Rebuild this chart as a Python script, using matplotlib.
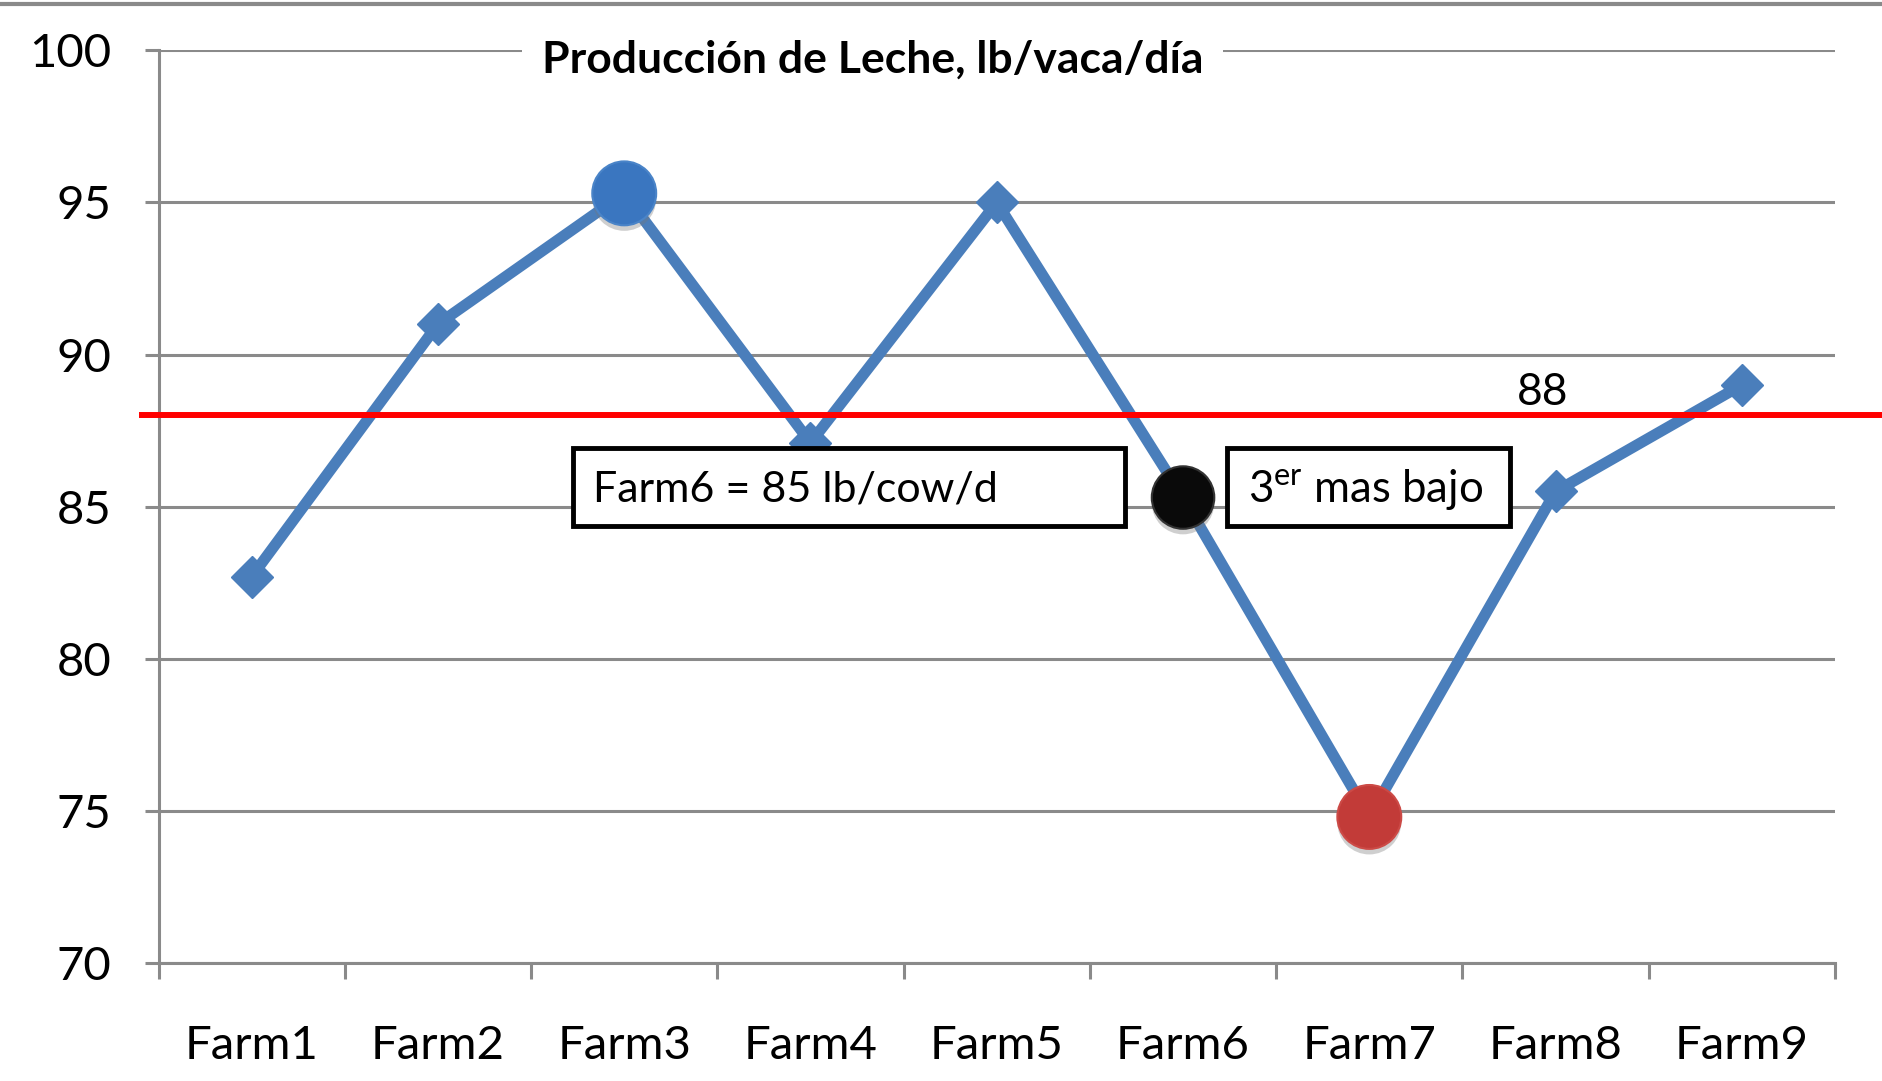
import numpy as np
import matplotlib
matplotlib.use("Agg")
import matplotlib.pyplot as plt
import matplotlib.patheffects as pe
from matplotlib.patches import Rectangle
from matplotlib.lines import Line2D

plt.rcParams['font.family'] = ['Lato', 'DejaVu Sans']
plt.rcParams['mathtext.fontset'] = 'custom'
plt.rcParams['mathtext.rm'] = 'Lato'

# datos
farms = ['Farm1', 'Farm2', 'Farm3', 'Farm4', 'Farm5', 'Farm6', 'Farm7', 'Farm8', 'Farm9']
leche = [82.7, 91.0, 95.3, 87.1, 95.0, 85.3, 74.8, 85.5, 89.0]
referencia = 88
yticks = [70, 75, 80, 85, 90, 95, 100]
titulo = 'Producción de Leche, lb/vaca/día'
nota1 = 'Farm6 = 85 lb/cow/d'
nota2 = '3$^{\\mathrm{er}}$ mas bajo'

gris = '#8a8a8a'
azul = '#4a7ebb'

fig = plt.figure(figsize=(18.83, 10.81), dpi=100, facecolor='w')
ax = fig.add_axes([0.0842, 0.1092, 0.8903, 0.8442])
x = np.arange(len(farms))

ax.set_xlim(-0.5, len(farms) - 0.5)
ax.set_ylim(70, 100)
ax.set_yticks(yticks)
ax.set_xticks(x)
ax.set_xticklabels(farms)
ax.set_xticks(np.arange(-0.5, len(farms), 1), minor=True)
ax.yaxis.grid(True, color=gris, lw=2.2, zorder=0)
ax.set_axisbelow(True)
for s in ['top', 'right']:
    ax.spines[s].set_visible(False)
for s in ['left', 'bottom']:
    ax.spines[s].set_color(gris)
    ax.spines[s].set_linewidth(2.2)
ax.tick_params(axis='y', length=10, width=2.2, color=gris, pad=24, labelsize=34)
ax.tick_params(axis='x', which='major', length=0, pad=45, labelsize=34)
ax.tick_params(axis='x', which='minor', length=11.5, width=2.2, color=gris)

# serie principal
ax.plot(x, leche, color=azul, lw=8, marker='D', ms=21, zorder=3)

# puntos destacados
sombra = [pe.SimplePatchShadow(offset=(0, -4), shadow_rgbFace='#777777', alpha=0.35), pe.Normal()]
ax.plot(x[2], leche[2], 'o', ms=46, color='#3a76c0', mec='#4a84c8', mew=1.5, zorder=5, path_effects=sombra)
ax.plot(x[6], leche[6], 'o', ms=46, color='#c23b38', mec='#cc4a46', mew=1.5, zorder=5, path_effects=sombra)
ax.plot(x[5], leche[5], 'o', ms=45, color='#0a0a0a', mec='#333333', mew=1.5, zorder=6, path_effects=sombra)

# linea de referencia
ax.plot([-0.59, 8.8], [referencia, referencia], color='#ff0000', lw=4.3, zorder=4, clip_on=False)
ax.text(6.93, 88.75, str(referencia), fontsize=32, ha='center', va='center', zorder=6)

# cuadros de texto
ax.add_patch(Rectangle((1.724, 84.37), 4.69 - 1.724, 86.93 - 84.37, fc='w', ec='k', lw=3.5, zorder=5))
ax.text(1.83, 85.55, nota1, fontsize=31, ha='left', va='center', zorder=6)
ax.add_patch(Rectangle((5.238, 84.37), 6.753 - 5.238, 86.93 - 84.37, fc='w', ec='k', lw=3.5, zorder=5))
ax.text(5.35, 85.55, nota2, fontsize=31.5, ha='left', va='center', zorder=6)

# titulo sobre la linea de 100
ax.text(0.426, 99.7, titulo, transform=ax.get_yaxis_transform(), fontsize=32, fontweight='bold',
        ha='center', va='center', zorder=6, clip_on=False,
        bbox=dict(fc='w', ec='none', pad=14))

# borde superior del area del grafico
fig.add_artist(Line2D([0, 1], [0.9965, 0.9965], transform=fig.transFigure, color=gris, lw=3))

plt.savefig('out.png', dpi=100, facecolor='w')
